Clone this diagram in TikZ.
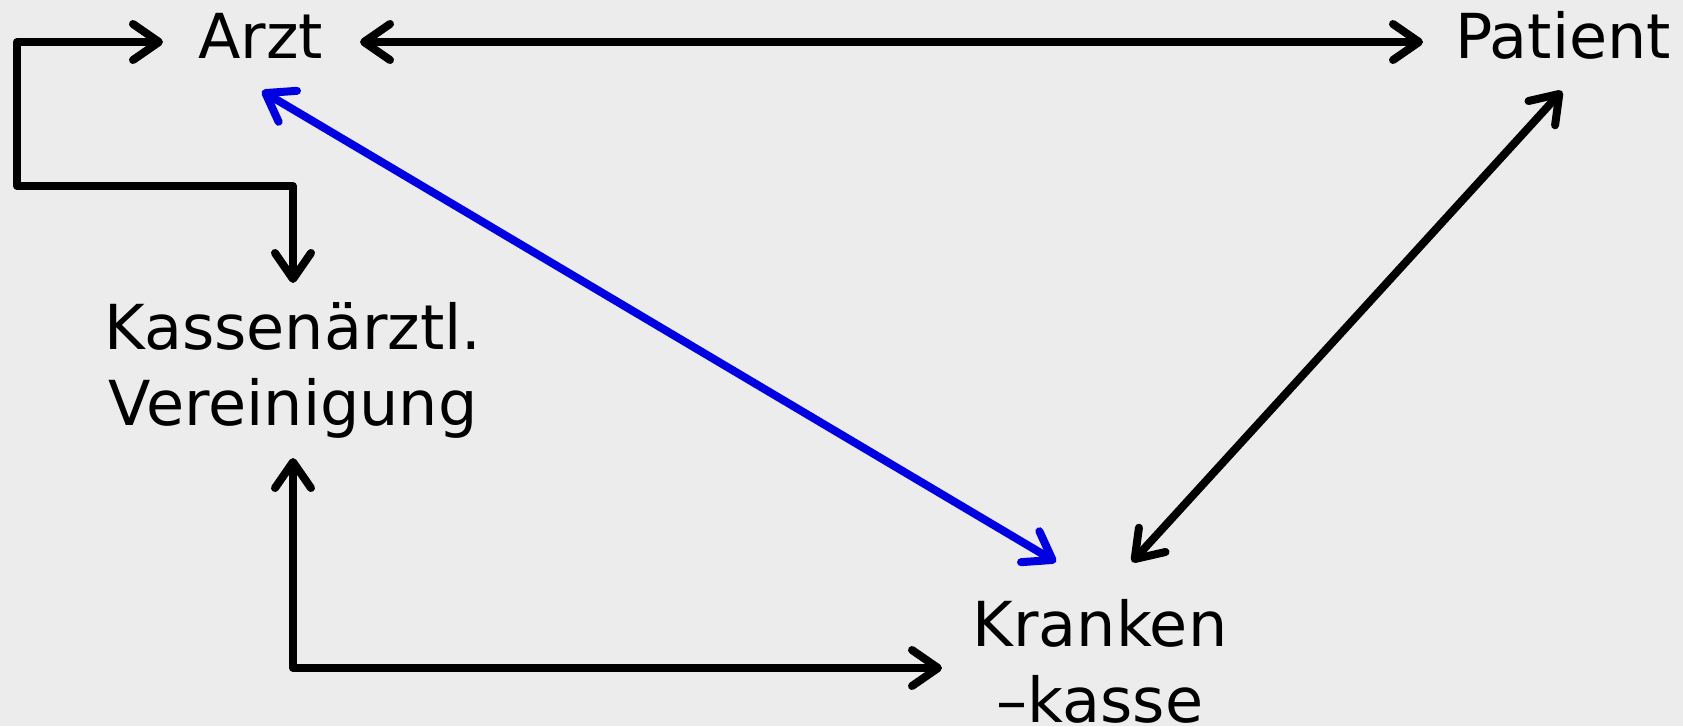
\documentclass[tikz,border=0pt]{standalone}
\usepackage{fontspec}
\setmainfont{DejaVu Sans}
\usetikzlibrary{arrows.meta}
\definecolor{bgc}{RGB}{236,236,236}
\definecolor{linkblue}{RGB}{0,0,225}
\begin{document}
\begin{tikzpicture}[x=1pt,y=-1pt,
  lbl/.style={inner sep=0pt,align=center,font=\fontsize{62}{76}\selectfont,anchor=base},
  conn/.style={line width=8pt,line cap=round,line join=round,
    {Straight Barb[length=26pt,width=36pt,line cap=round,line join=round]}-{Straight Barb[length=26pt,width=36pt,line cap=round,line join=round]}}]
\fill[bgc] (0,0) rectangle (1683,726);
\useasboundingbox (0,0) rectangle (1683,726);
\node[lbl] (arzt) at (260.5,58) {Arzt};
\node[lbl] (patient) at (1563,58) {Patient};
\node[lbl] (kv) at (293,425) {Kassenärztl.\\Vereinigung};
\node[lbl] (kk) at (1100,722) {Kranken\\–kasse};
% loop Arzt - KV
\draw[conn] ([shift={(-97.5,-16)}]arzt.base) -- ++(-146,0) -- ++(0,144) -| ([shift={(0,-142)}]kv.base);
% Arzt - Patient
\draw[conn] ([shift={(99.5,-16)}]arzt.base) -- ([shift={(-140,-16)}]patient.base);
% Arzt - Krankenkasse (blue)
\draw[conn,draw=linkblue] ([shift={(1.5,33)}]arzt.base) -- ([shift={(-44,-160)}]kk.base);
% Patient - Krankenkasse
\draw[conn] ([shift={(-1,33)}]patient.base) -- ([shift={(32,-160)}]kk.base);
% KV - Krankenkasse
\draw[conn] ([shift={(0,33)}]kv.base) |- ([shift={(-158,-54)}]kk.base);
\end{tikzpicture}
\end{document}
